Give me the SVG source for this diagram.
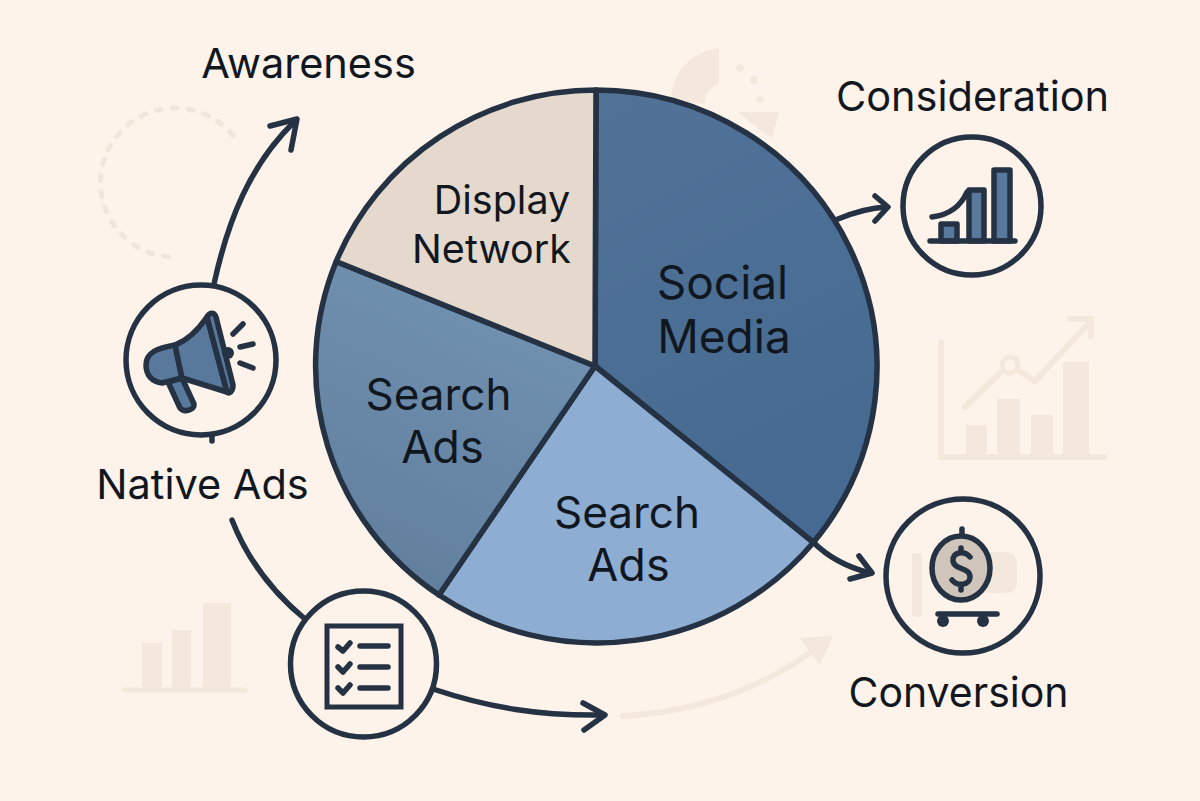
<svg xmlns="http://www.w3.org/2000/svg" width="1200" height="801" viewBox="0 0 1200 801">
<style>
.t{font-family:Inter,"Liberation Sans",sans-serif;fill:#11171f;text-anchor:middle}
.s{fill:none;stroke:#243243;stroke-linecap:round;stroke-linejoin:round;stroke-width:5.5}
.c{fill:#fdf3ea;stroke:#243243;stroke-width:5.5}
.g{fill:#f3e8db;stroke:none}
.gl{fill:none;stroke:#f3e8db;stroke-linecap:round;stroke-linejoin:round}
.i{fill:#58789c;stroke:#243243;stroke-width:5.5;stroke-linejoin:round}
</style>
<defs>
<linearGradient id="gs" x1="0" y1="0" x2="0.3" y2="1"><stop offset="0" stop-color="#527398"/><stop offset="1" stop-color="#466a91"/></linearGradient>
<linearGradient id="gl" x1="0.7" y1="0" x2="0.3" y2="1"><stop offset="0" stop-color="#7393b3"/><stop offset="1" stop-color="#617f9d"/></linearGradient>
</defs>
<rect width="1200" height="801" fill="#fdf3ea"/>
<g id="background-art">
<path d="M232.900 135.600A74.500 74.500 0 1 0 172.400 257" fill="none" stroke="#f1e6db" stroke-width="5" stroke-linecap="round" stroke-dasharray="5 11"/>
<path class="g" d="M671 100C673 72 690 52 719 48L719 84C708 88 704 96 705 104Z"/>
<path class="g" d="M738 112L779 112L772 138L760 130Z"/>
<circle class="g" cx="740" cy="68" r="4"/><circle class="g" cx="754" cy="80" r="4"/><circle class="g" cx="760" cy="99" r="3.500"/>
<path class="gl" stroke-width="6" d="M941 342V457H1104"/>
<rect class="g" x="966" y="425" width="21" height="32"/><rect class="g" x="997" y="399" width="23" height="58"/><rect class="g" x="1031" y="415" width="22" height="42"/><rect class="g" x="1063" y="362" width="26" height="95"/>
<path class="gl" stroke-width="6" d="M965 407L1001 372M1018 370L1035 381L1090 322M1070 319H1091V336"/>
<circle cx="1010" cy="365" r="8" fill="none" stroke="#f3e8db" stroke-width="5"/>
<path class="gl" stroke-width="5" d="M124 690H245"/>
<rect class="g" x="142" y="643" width="20" height="47"/><rect class="g" x="172" y="630" width="19" height="60"/><rect class="g" x="203" y="603" width="28" height="87"/>
<path class="gl" stroke-width="6" d="M623 716C700 712 770 685 820 645"/>
<path class="g" d="M800 638L833 636L820 665Z"/>
</g>
<g id="connectors">
<path class="s" d="M214 284C228 220 250 165 294 122"/><path class="s" d="M270 126L297 119L291 150"/>
<path class="s" d="M212 436V441"/>
<path class="s" d="M232 520C246 556 270 590 305 619"/>
<path class="s" d="M433 689C490 708 540 716 603 715"/><path class="s" d="M583 703L605 715L584 730"/>
<path class="s" d="M838 219C855 212 868 208 886 207"/><path class="s" d="M875 196L888 207L875 221"/>
<path class="s" d="M813 542C827 556 846 567 870 573"/><path class="s" d="M859 556L872 573L850 579"/>
</g>
<g id="pie" stroke="#243243" stroke-width="5.500" stroke-linejoin="round">
<path id="slice-social-media" fill="url(#gs)" d="M595 366L596 90A281 277 0 0 1 813.400 542.500Z"/>
<path id="slice-search-ads-lower" fill="#8dadd3" d="M595 366L813.400 542.500A281 277 0 0 1 439 595Z"/>
<path id="slice-search-ads-left" fill="url(#gl)" d="M595 366L439 595A281 277 0 0 1 336.200 261.500Z"/>
<path id="slice-display-network" fill="#e5d9cd" d="M595 366L336.200 261.500A281 277 0 0 1 596 90Z"/>
</g>
<g id="pie-labels">
<text class="t" x="502" y="214" font-size="39.500">Display</text>
<text class="t" x="491.500" y="263" font-size="39.500">Network</text>
<text class="t" x="722.500" y="299" font-size="46">Social</text>
<text class="t" x="724" y="353" font-size="46">Media</text>
<text class="t" x="438.500" y="410" font-size="44">Search</text>
<text class="t" x="442.500" y="463" font-size="45">Ads</text>
<text class="t" x="627" y="528" font-size="44">Search</text>
<text class="t" x="628.500" y="581" font-size="45">Ads</text>
</g>
<g id="awareness-label"><text class="t" x="308.500" y="78" font-size="41.500">Awareness</text></g>
<g id="consideration-label"><text class="t" x="972.500" y="111" font-size="41.500">Consideration</text></g>
<g id="native-ads-label"><text class="t" x="202.500" y="499" font-size="41.500">Native Ads</text></g>
<g id="conversion-label"><text class="t" x="958.500" y="707" font-size="41">Conversion</text></g>
<g id="megaphone-node">
<circle class="c" cx="201" cy="360" r="75"/>
<path class="i" d="M168 382L182 378L194 404C195 410 184 413 180 408Z"/>
<path class="i" d="M175 345C158 348 146 352 146 365C146 376 153 382 162 383L182 378Z"/>
<path class="i" d="M175 345C188 340 198 330 207 317L227 392L182 378Z"/>
<path class="i" d="M207 317C210 312 214 312 216 317L233 385C233 392 229 394 227 392Z"/>
<circle cx="228" cy="353" r="6" fill="#243243"/>
<path class="s" stroke-width="5" d="M233 334L243 324M240 347L253 344M240 363L253 368"/>
</g>
<g id="chart-node">
<circle class="c" cx="972" cy="206" r="69"/>
<path class="i" d="M941 224H957V241H941Z"/>
<path class="i" d="M969 190H984V241H969Z"/>
<path class="i" d="M994 170H1010V241H994Z"/>
<path class="s" d="M932 217C948 215 960 208 967 192"/>
<path class="s" d="M930 241H1015"/>
</g>
<g id="conversion-node">
<circle class="c" cx="963" cy="576" r="77"/>
<rect class="g" x="912" y="553" width="10" height="64" rx="3"/>
<path class="g" d="M985 552H1006C1014 552 1017 558 1017 566V582C1017 590 1012 593 1004 593H985Z"/>
<ellipse cx="961" cy="568" rx="29" ry="32" fill="#cfc5ba" stroke="#243243" stroke-width="5.500"/>
<path class="s" d="M962 529V534M938 614H997"/>
<path class="s" stroke-width="4.500" d="M970 557C964 550 952 552 953 561C954 570 970 567 970 577C970 585 958 587 952 580M961 551V548M961 587V590"/>
<circle cx="943" cy="621" r="6" fill="#243243"/><circle cx="983" cy="621" r="6" fill="#243243"/>
</g>
<g id="checklist-node">
<circle class="c" cx="363.500" cy="664" r="73"/>
<rect x="327" y="626" width="74" height="81" fill="none" stroke="#243243" stroke-width="5"/>
<path class="s" stroke-width="4.500" d="M338 647L343 651L350 643M338 667L343 672L350 664M338 688L343 693L350 685"/>
<path class="s" stroke-width="4.500" d="M360 646H388M360 667H388M360 688H388"/>
</g>
</svg>
